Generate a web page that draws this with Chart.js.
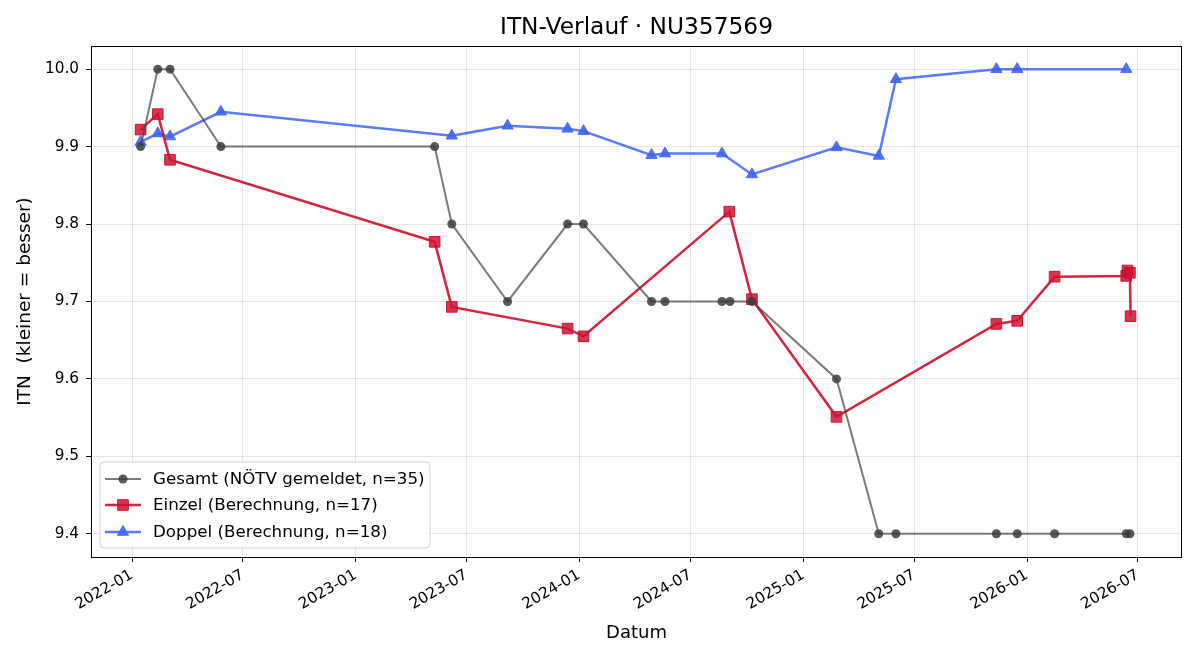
<!DOCTYPE html>
<html>
<head>
<meta charset="utf-8">
<title>ITN-Verlauf</title>
<script src="https://cdn.jsdelivr.net/npm/chart.js@4.4.1/dist/chart.umd.min.js"></script>
<style>
  html, body { margin: 0; padding: 0; background: #fff; }
  #wrap { width: 1200px; height: 660px; }
</style>
</head>
<body>
<div id="wrap"><canvas id="itnChart" width="1200" height="660"></canvas></div>
<script>
// ================= DATA =================
var gesamtDates = ["2022-01-15", "2022-02-12", "2022-03-04", "2022-05-26", "2023-05-10", "2023-06-07",
  "2023-09-06", "2023-12-13", "2024-01-08", "2024-04-28", "2024-05-20", "2024-08-21", "2024-09-03",
  "2024-10-09", "2025-02-24", "2025-05-04", "2025-06-01", "2025-11-12", "2025-12-16", "2026-02-15",
  "2026-06-12", "2026-06-18"];
var gesamtITN = [9.9, 10.0, 10.0, 9.9, 9.9, 9.8, 9.7, 9.8, 9.8, 9.7, 9.7, 9.7, 9.7, 9.7, 9.6,
  9.4, 9.4, 9.4, 9.4, 9.4, 9.4, 9.4];

var einzelDates = ["2022-01-15", "2022-02-12", "2022-03-04", "2023-05-10", "2023-06-07", "2023-12-13",
  "2024-01-08", "2024-09-02", "2024-10-09", "2025-02-24", "2025-11-12", "2025-12-16", "2026-02-15",
  "2026-06-12", "2026-06-14", "2026-06-18", "2026-06-19"];
var einzelITN = [9.922, 9.942, 9.883, 9.777, 9.693, 9.665, 9.655, 9.816, 9.703, 9.551, 9.671,
  9.675, 9.732, 9.733, 9.740, 9.737, 9.681];

var doppelDates = ["2022-01-15", "2022-02-12", "2022-03-04", "2022-05-26", "2023-06-07", "2023-09-06",
  "2023-12-13", "2024-01-08", "2024-04-28", "2024-05-20", "2024-08-21", "2024-10-09", "2025-02-24",
  "2025-05-04", "2025-06-01", "2025-11-12", "2025-12-16", "2026-06-12"];
var doppelITN = [9.906, 9.917, 9.913, 9.945, 9.914, 9.927, 9.923, 9.920, 9.889, 9.891, 9.891,
  9.864, 9.899, 9.888, 9.987, 10.0, 10.0, 10.0];

var xTickLabels = ["2022-01", "2022-07", "2023-01", "2023-07", "2024-01", "2024-07",
  "2025-01", "2025-07", "2026-01", "2026-07"];
var yTickValues = [9.4, 9.5, 9.6, 9.7, 9.8, 9.9, 10.0];

var xMinDate = "2021-10-26";
var xMaxDate = "2026-09-11";
var yMin = 9.37;
var yMax = 10.03;

var seriesLabels = ["Gesamt (NÖTV gemeldet, n=35)", "Einzel (Berechnung, n=17)", "Doppel (Berechnung, n=18)"];

// ================= HELPERS =================
function toTime(s) {
  var p = s.split("-");
  return Date.UTC(+p[0], +p[1] - 1, p[2] ? +p[2] : 1);
}

function pairs(dates, values) {
  return dates.map(function (d, i) { return { x: toTime(d), y: values[i] }; });
}

var FONT = "'DejaVu Sans', sans-serif";

// ================= PLUGINS =================
function drawMarker(ctx, style, x, y, r, fill, stroke) {
  ctx.save();
  ctx.fillStyle = fill;
  ctx.strokeStyle = stroke;
  ctx.lineWidth = 1;
  ctx.beginPath();
  if (style === "circle") {
    ctx.arc(x, y, r, 0, Math.PI * 2);
  } else if (style === "rect") {
    var s = Math.SQRT1_2 * r;
    ctx.rect(x - s, y - s, 2 * s, 2 * s);
  } else {
    var h = r * 1.5, w = r * Math.sqrt(3) / 2;
    ctx.moveTo(x, y - r);
    ctx.lineTo(x + w, y - r + h);
    ctx.lineTo(x - w, y - r + h);
    ctx.closePath();
  }
  ctx.fill();
  if (style !== "circle") ctx.stroke();
  ctx.restore();
}

var frameAndLegend = {
  id: "frameAndLegend",
  afterDatasetsDraw: function (chart) {
    var ctx = chart.ctx, a = chart.chartArea;

    // frame
    ctx.save();
    ctx.strokeStyle = "#000";
    ctx.lineWidth = 1;
    ctx.strokeRect(Math.round(a.left) + 0.5, Math.round(a.top) + 0.5,
      Math.round(a.right - a.left) - 1, Math.round(a.bottom - a.top));
    ctx.restore();

    // legend
    var x0 = a.left + 9, y0 = a.bottom - 95, w = 330, h = 86, rr = 4;
    ctx.save();
    ctx.beginPath();
    ctx.moveTo(x0 + rr, y0);
    ctx.arcTo(x0 + w, y0, x0 + w, y0 + h, rr);
    ctx.arcTo(x0 + w, y0 + h, x0, y0 + h, rr);
    ctx.arcTo(x0, y0 + h, x0, y0, rr);
    ctx.arcTo(x0, y0, x0 + w, y0, rr);
    ctx.closePath();
    ctx.fillStyle = "rgba(255,255,255,0.85)";
    ctx.fill();
    ctx.strokeStyle = "rgba(204,204,204,0.9)";
    ctx.lineWidth = 1;
    ctx.stroke();

    var rows = [17, 43, 70];
    chart.data.datasets.forEach(function (ds, i) {
      var y = y0 + rows[i];
      ctx.beginPath();
      ctx.strokeStyle = ds.borderColor;
      ctx.lineWidth = ds.borderWidth;
      ctx.moveTo(x0 + 5, y);
      ctx.lineTo(x0 + 41, y);
      ctx.stroke();
      drawMarker(ctx, ds.pointStyle, x0 + 23, y, ds.pointRadius, ds.pointBackgroundColor, ds.pointBorderColor);
      ctx.fillStyle = "#000";
      ctx.font = "16.7px " + FONT;
      ctx.textAlign = "left";
      ctx.textBaseline = "middle";
      ctx.fillText(ds.label, x0 + 53, y + 1);
    });
    ctx.restore();
  }
};

// ================= CHART =================
var ctx = document.getElementById("itnChart").getContext("2d");
var itnChart = new Chart(ctx, {
  type: "line",
  data: {
    datasets: [{
      label: seriesLabels[0],
      data: pairs(gesamtDates, gesamtITN),
      borderColor: "rgba(68,68,68,0.7)",
      borderWidth: 2,
      pointStyle: "circle",
      pointRadius: 4.5,
      pointHoverRadius: 4.5,
      pointBackgroundColor: "rgba(60,60,60,0.85)",
      pointBorderColor: "rgba(60,60,60,0.85)",
      pointBorderWidth: 0,
      tension: 0,
      fill: false
    }, {
      label: seriesLabels[1],
      data: pairs(einzelDates, einzelITN),
      borderColor: "rgba(200,16,46,0.9)",
      borderWidth: 2.5,
      pointStyle: "rect",
      pointRadius: 7.5,
      pointHoverRadius: 7.5,
      pointBackgroundColor: "rgba(205,20,50,0.85)",
      pointBorderColor: "rgba(200,16,46,0.95)",
      pointBorderWidth: 1,
      tension: 0,
      fill: false
    }, {
      label: seriesLabels[2],
      data: pairs(doppelDates, doppelITN),
      borderColor: "rgba(65,100,240,0.85)",
      borderWidth: 2.5,
      pointStyle: "triangle",
      pointRadius: 6.5,
      pointHoverRadius: 6.5,
      pointBackgroundColor: "rgba(65,100,240,0.9)",
      pointBorderColor: "rgba(65,100,240,0.9)",
      pointBorderWidth: 1,
      tension: 0,
      fill: false
    }]
  },
  options: {
    responsive: false,
    animation: false,
    devicePixelRatio: 1,
    layout: { padding: { top: 0, right: 18, bottom: 0, left: 0 } },
    plugins: {
      legend: { display: false },
      tooltip: { enabled: false },
      title: {
        display: true,
        fullSize: false,
        text: "ITN-Verlauf · NU357569",
        color: "#000",
        font: { family: FONT, size: 23.3, weight: "normal", lineHeight: 1.2 },
        padding: { top: 14, bottom: 4 }
      }
    },
    scales: {
      x: {
        type: "linear",
        min: toTime(xMinDate),
        max: toTime(xMaxDate),
        border: { display: false },
        grid: { color: "rgba(0,0,0,0.1)", tickColor: "#000", tickLength: 5, lineWidth: 1 },
        ticks: {
          color: "#000",
          font: { family: FONT, size: 15.3 },
          maxRotation: 30,
          minRotation: 30,
          padding: 4,
          autoSkip: false,
          callback: function (value) {
            var d = new Date(value);
            var m = d.getUTCMonth() + 1;
            return d.getUTCFullYear() + "-" + (m < 10 ? "0" + m : m);
          }
        },
        afterBuildTicks: function (scale) {
          scale.ticks = xTickLabels.map(function (t) { return { value: toTime(t) }; });
        },
        afterFit: function (scale) { scale.height = 103; },
        title: {
          display: true,
          text: "Datum",
          color: "#000",
          font: { family: FONT, size: 18 },
          padding: { top: 0, bottom: 16 }
        }
      },
      y: {
        min: yMin,
        max: yMax,
        border: { display: false },
        grid: { color: "rgba(0,0,0,0.1)", tickColor: "#000", tickLength: 5, lineWidth: 1 },
        ticks: {
          color: "#000",
          font: { family: FONT, size: 15.3 },
          padding: 7,
          callback: function (value) { return value.toFixed(1); }
        },
        afterBuildTicks: function (scale) {
          scale.ticks = yTickValues.map(function (v) { return { value: v }; });
        },
        afterFit: function (scale) { scale.width = 91; },
        title: {
          display: true,
          text: "ITN  (kleiner = besser)",
          color: "#000",
          font: { family: FONT, size: 18.5 },
          padding: { top: 14, bottom: 0 }
        }
      }
    }
  },
  plugins: [frameAndLegend]
});
</script>
</body>
</html>
